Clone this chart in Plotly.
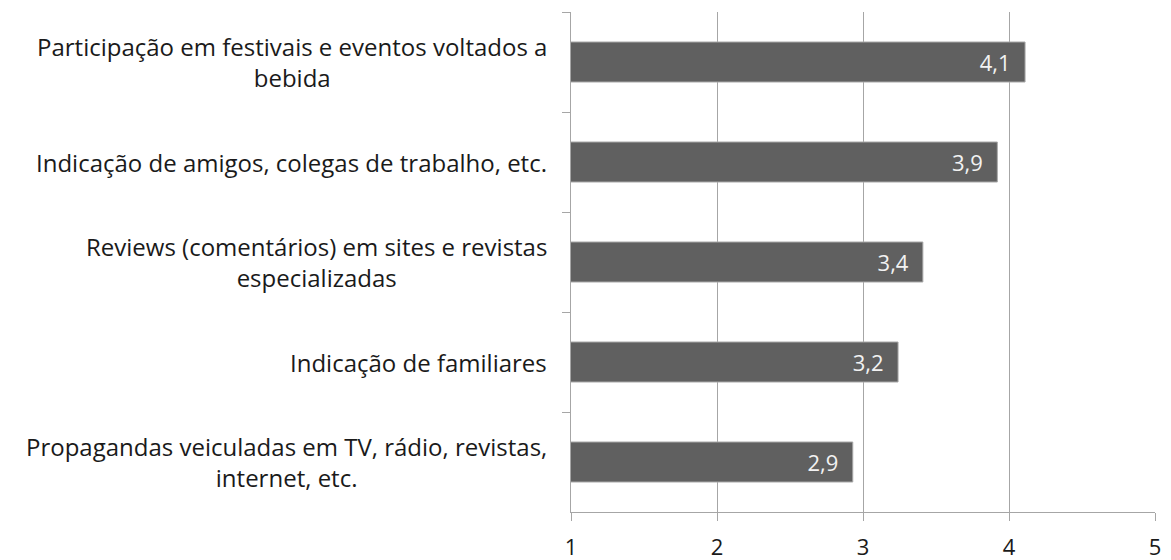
import plotly.graph_objects as go

categories = [
    "Participação em festivais e eventos voltados a<br>bebida",
    "Indicação de amigos, colegas de trabalho, etc.",
    "Reviews (comentários) em sites e revistas<br>especializadas",
    "Indicação de familiares",
    "Propagandas veiculadas em TV, rádio, revistas,<br>internet, etc.",
]
values = [4.11, 3.92, 3.41, 3.24, 2.93]
x_ticks = [1, 2, 3, 4, 5]

FONT = "Open Sans"

fig = go.Figure()
fig.add_trace(go.Bar(
    y=categories,
    x=values,
    orientation="h",
    width=0.4,
    marker=dict(color="#606060", line=dict(color="#a8a8a8", width=1)),
    texttemplate="%{x:.1f}\u00a0\u00a0",
    textposition="inside",
    insidetextanchor="end",
    textfont=dict(color="#f2f2f2", size=22, family=FONT),
    cliponaxis=True,
))

for c in categories:
    fig.add_annotation(
        x=0, xref="paper", y=c, yref="y",
        text=c, showarrow=False, xanchor="right", xshift=-22,
        align="center", font=dict(size=24, family=FONT, color="#1a1a1a"),
    )

# the page body has an 8px margin, so the figure is sized/placed to compensate
fig.update_layout(
    width=1163, height=552,
    margin=dict(l=563, r=16, t=4, b=48),
    plot_bgcolor="white", paper_bgcolor="white",
    separators=", ",
    showlegend=False,
)
fig.update_xaxes(
    range=[1, 5], tickvals=x_ticks, showgrid=True, gridcolor="#a6a6a6", gridwidth=1,
    showline=True, linecolor="#a6a6a6", ticks="outside", ticklen=8, tickcolor="#a6a6a6",
    tickfont=dict(size=22, family=FONT, color="#1a1a1a"), zeroline=False,
    automargin=False, ticklabelstandoff=8,
)
fig.update_yaxes(
    autorange="reversed", showticklabels=False, showline=True, linecolor="#a6a6a6",
    ticks="outside", ticklen=8, tickcolor="#a6a6a6", tickson="boundaries",
    showgrid=False, automargin=False,
)

fig.write_html("out.html")
